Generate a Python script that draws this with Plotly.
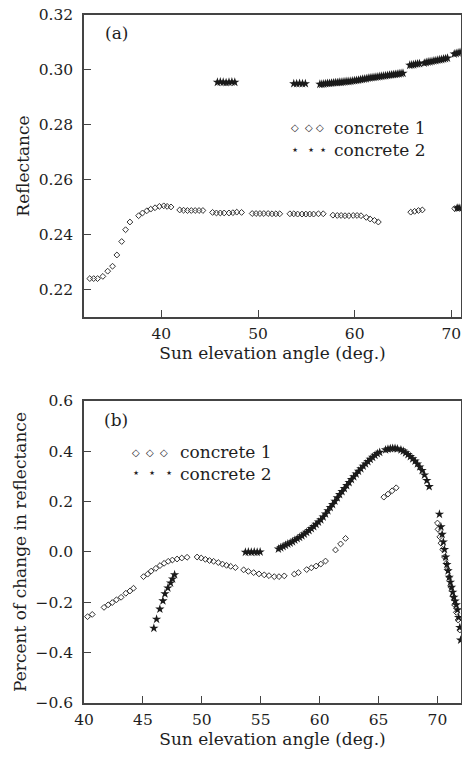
import plotly.graph_objects as go
from plotly.subplots import make_subplots

# ---------------- panel (a): reflectance ----------------
a_c1_x = [32.6, 33.0, 33.4, 33.95, 34.45, 34.95, 35.4, 35.9, 36.3, 36.75, 37.65, 38.05, 38.5, 38.9,
          39.35, 39.8, 40.25, 40.6, 41.0, 41.9, 42.3, 42.7, 43.1, 43.5, 43.9, 44.3, 45.3, 45.7, 46.1,
          46.5, 47.0, 47.4, 47.8, 48.3, 49.4, 49.8, 50.2, 50.6, 51.05, 51.45, 51.85, 52.25, 53.3, 53.7,
          54.1, 54.55, 54.95, 55.35, 55.75, 56.25, 56.75, 57.75, 58.2, 58.6, 59.0, 59.4, 59.85, 60.25,
          60.65, 61.2, 61.6, 62.05, 62.45, 65.8, 66.2, 66.6, 67.0, 70.35, 70.65, 70.95]
a_c1_y = [0.2240, 0.2240, 0.2240, 0.2248, 0.2267, 0.2285, 0.2326, 0.2375, 0.2418, 0.2446, 0.2469,
          0.2479, 0.2487, 0.2493, 0.2498, 0.2503, 0.2505, 0.2503, 0.2501, 0.2490, 0.2489, 0.2488,
          0.2488, 0.2488, 0.2488, 0.2488, 0.2481, 0.2479, 0.2479, 0.2479, 0.2479, 0.2480, 0.2482,
          0.2481, 0.2477, 0.2477, 0.2477, 0.2477, 0.2477, 0.2476, 0.2476, 0.2476, 0.2476, 0.2476,
          0.2475, 0.2475, 0.2475, 0.2475, 0.2475, 0.2476, 0.2476, 0.2471, 0.2470, 0.2470, 0.2469,
          0.2469, 0.2470, 0.2470, 0.2469, 0.2463, 0.2457, 0.2452, 0.2446, 0.2482, 0.2485, 0.2488,
          0.2490, 0.2495, 0.2497, 0.2498]

a_c2_x = [45.8, 46.1, 46.4, 46.7, 47.0, 47.3, 47.6,
          53.7, 54.0, 54.3, 54.6, 54.9,
          56.4, 56.6, 56.8, 57.0, 57.2, 57.4, 57.6, 57.8, 58.0, 58.2, 58.4, 58.6, 58.8, 59.0, 59.2,
          59.4, 59.6, 59.8, 60.0, 60.2, 60.4, 60.6, 60.8, 61.0, 61.2, 61.4, 61.6, 61.8, 62.0, 62.2,
          62.4, 62.6, 62.8, 63.0, 63.2, 63.4, 63.6, 63.8, 64.0, 64.2, 64.4, 64.6, 64.8, 65.0,
          65.7, 65.9, 66.1, 66.3, 66.5, 66.7, 67.2, 67.4, 67.6, 67.8, 68.0, 68.2, 68.4, 68.6, 68.8,
          69.0, 69.2, 69.4, 69.6,
          70.3, 70.5, 70.7, 70.9,
          70.6, 70.8]
a_c2_y = [0.2955, 0.2956, 0.2955, 0.2954, 0.2955, 0.2956, 0.2955,
          0.2950, 0.2950, 0.2951, 0.2950, 0.2950,
          0.2948, 0.2948, 0.2949, 0.2950, 0.2951, 0.2951, 0.2952, 0.2953, 0.2954, 0.2954, 0.2955,
          0.2955, 0.2956, 0.2957, 0.2958, 0.2958, 0.2959, 0.2960, 0.2961, 0.2962, 0.2963, 0.2965,
          0.2966, 0.2967, 0.2968, 0.2970, 0.2971, 0.2972, 0.2973, 0.2974, 0.2975, 0.2976, 0.2977,
          0.2978, 0.2979, 0.2980, 0.2981, 0.2982, 0.2983, 0.2984, 0.2985, 0.2986, 0.2987, 0.2988,
          0.3017, 0.3018, 0.3019, 0.3021, 0.3022, 0.3023, 0.3025, 0.3027, 0.3029, 0.3030, 0.3031,
          0.3033, 0.3034, 0.3036, 0.3037, 0.3038, 0.3040, 0.3041, 0.3043,
          0.3058, 0.3060, 0.3062, 0.3064,
          0.2497, 0.2497]

# ---------------- panel (b): percent change ----------------
b_c1_x = [40.3, 40.7, 41.7, 42.05, 42.4, 42.75, 43.15, 43.55, 43.9, 44.2, 45.05, 45.4, 45.7, 46.1,
          46.45, 46.8, 47.15, 47.5, 47.9, 48.3, 48.75, 49.6, 49.95, 50.3, 50.65, 51.0, 51.4, 51.75,
          52.1, 52.45, 52.85, 53.55, 53.95, 54.4, 54.85, 55.3, 55.7, 56.15, 56.55, 57.0, 57.85, 58.2,
          58.9, 59.3, 59.7, 60.1, 60.5, 61.35, 61.78, 62.2, 65.45, 65.8, 66.15, 66.5,
          70.0, 70.05, 70.2, 70.3, 70.45, 70.6, 70.75, 70.87, 71.0, 71.15, 71.3, 71.45, 71.6, 71.75, 71.9]
b_c1_y = [-0.257, -0.248, -0.220, -0.210, -0.201, -0.190, -0.180, -0.164, -0.155, -0.144, -0.098,
          -0.088, -0.076, -0.065, -0.054, -0.045, -0.037, -0.032, -0.028, -0.024, -0.021, -0.020,
          -0.024, -0.029, -0.034, -0.037, -0.042, -0.048, -0.053, -0.057, -0.062, -0.071, -0.077,
          -0.082, -0.087, -0.091, -0.094, -0.098, -0.098, -0.095, -0.088, -0.082, -0.070, -0.063,
          -0.056, -0.048, -0.036, 0.008, 0.032, 0.054, 0.218, 0.230, 0.243, 0.255,
          0.115, 0.090, 0.060, 0.035, 0.010, -0.020, -0.045, -0.070, -0.100, -0.140, -0.175, -0.210,
          -0.240, -0.270, -0.310]

b_c2_x = [45.93, 46.16, 46.44, 46.7, 46.87, 47.12, 47.35, 47.52, 47.69,
          53.7, 53.95, 54.2, 54.45, 54.7, 54.95,
          56.5, 56.7, 56.9, 57.1, 57.3, 57.5, 57.7, 57.9, 58.1, 58.3, 58.5, 58.7, 58.9, 59.1, 59.3,
          59.5, 59.7, 59.9, 60.1, 60.3, 60.5, 60.7, 60.9, 61.1, 61.3, 61.5, 61.7, 61.9, 62.1, 62.3,
          62.5, 62.7, 62.9, 63.1, 63.3, 63.5, 63.7, 63.9, 64.1, 64.3, 64.5, 64.7, 64.9, 65.1,
          65.6, 65.8, 66.0, 66.2, 66.4, 66.6, 66.9, 67.1, 67.3, 67.5, 67.7, 67.9, 68.1, 68.3, 68.5,
          68.7, 68.9, 69.1, 69.3,
          70.17, 70.3, 70.4, 70.5, 70.6, 70.7, 70.8, 70.9, 71.0, 71.1, 71.2, 71.3, 71.4, 71.5, 71.6,
          71.7, 71.8, 71.9, 71.97]
b_c2_y = [-0.303, -0.267, -0.227, -0.194, -0.166, -0.143, -0.123, -0.107, -0.090,
          -0.001, 0.000, -0.001, 0.000, -0.001, 0.000,
          0.012, 0.017, 0.022, 0.027, 0.032, 0.036, 0.041, 0.047, 0.053, 0.058, 0.064, 0.071, 0.078,
          0.085, 0.093, 0.101, 0.110, 0.119, 0.128, 0.139, 0.151, 0.164, 0.177, 0.189, 0.202, 0.215,
          0.228, 0.240, 0.252, 0.264, 0.276, 0.288, 0.299, 0.310, 0.321, 0.331, 0.341, 0.350, 0.359,
          0.368, 0.376, 0.384, 0.391, 0.396,
          0.406, 0.409, 0.411, 0.412, 0.412, 0.410, 0.406, 0.401, 0.394, 0.387, 0.379, 0.370, 0.361,
          0.350, 0.338, 0.324, 0.306, 0.284, 0.260,
          0.150, 0.100, 0.070, 0.040, 0.010, -0.020, -0.050, -0.075, -0.100, -0.120, -0.140, -0.160,
          -0.180, -0.195, -0.210, -0.230, -0.260, -0.300, -0.350]

a_yticks = [0.22, 0.24, 0.26, 0.28, 0.30, 0.32]
a_xticks = [40, 50, 60, 70]
b_yticks = [-0.6, -0.4, -0.2, 0.0, 0.2, 0.4, 0.6]
b_xticks = [40, 45, 50, 55, 60, 65, 70]

FONT = "DejaVu Serif"
INK = "#1e1e1e"
DIA = dict(symbol="diamond-open", size=4.5, color="#333", line=dict(width=1, color="#333"))
STAR = dict(symbol="star", size=7, color="#1a1a1a", line=dict(width=0))

fig = make_subplots(rows=2, cols=1, vertical_spacing=0.0)
fig.add_trace(go.Scatter(x=a_c1_x, y=a_c1_y, mode="markers", marker=DIA, name="concrete 1",
                         showlegend=False), row=1, col=1)
fig.add_trace(go.Scatter(x=a_c2_x, y=a_c2_y, mode="markers", marker=STAR, name="concrete 2",
                         showlegend=False), row=1, col=1)
fig.add_trace(go.Scatter(x=b_c1_x, y=b_c1_y, mode="markers", marker=DIA, name="concrete 1",
                         showlegend=False), row=2, col=1)
fig.add_trace(go.Scatter(x=b_c2_x, y=b_c2_y, mode="markers", marker=STAR, name="concrete 2",
                         showlegend=False), row=2, col=1)

axis_common = dict(showline=True, mirror=True, linecolor="#444", linewidth=1.5, ticks="inside",
                   ticklen=7, tickcolor="#444", tickwidth=1.2, showgrid=False, zeroline=False,
                   automargin=False, ticklabeloverflow="allow",
                   tickfont=dict(family=FONT, size=15.5, color=INK))
title_font = dict(family=FONT, size=17, color=INK)

fig.update_xaxes(range=[32, 71], tickvals=a_xticks, domain=[0, 1], ticklabelstandoff=2,
                 title=dict(text="Sun elevation angle (deg.)", font=title_font, standoff=4),
                 **axis_common, row=1, col=1)
fig.update_yaxes(range=[0.21, 0.32], tickvals=a_yticks, tickformat=".2f", domain=[0.561, 1],
                 ticklabelstandoff=6,
                 title=dict(text="Reflectance", font=title_font, standoff=5),
                 **axis_common, row=1, col=1)
fig.update_xaxes(range=[40, 72], tickvals=b_xticks, domain=[0, 1], ticklabelstandoff=2,
                 title=dict(text="Sun elevation angle (deg.)", font=title_font, standoff=4),
                 **axis_common, row=2, col=1)
fig.update_yaxes(range=[-0.6, 0.6], tickvals=b_yticks, tickformat=".1f", domain=[0, 0.439],
                 ticklabelstandoff=6,
                 title=dict(text="Percent of change in reflectance", font=title_font, standoff=5),
                 **axis_common, row=2, col=1)

ann = []
def label(xr, yr, x, y, text, size, xanchor="left"):
    ann.append(dict(xref=xr, yref=yr, x=x, y=y, text=text, showarrow=False, xanchor=xanchor,
                    yanchor="middle", font=dict(family=FONT, size=size, color=INK)))

label("x domain", "y domain", 0.05, 0.94, "(a)", 17)
label("x2 domain", "y2 domain", 0.047, 0.937, "(b)", 17)
# legend (a)
label("x domain", "y domain", 0.543, 0.626, "◇ &nbsp;◇ ◇", 10)
label("x domain", "y domain", 0.543, 0.556, "⋆ &nbsp;⋆ ⋆", 13)
label("x domain", "y domain", 0.658, 0.591, "concrete 1<br>concrete 2", 17)
# legend (b)
label("x2 domain", "y2 domain", 0.122, 0.828, "◇ &nbsp;◇ &nbsp;◇", 10)
label("x2 domain", "y2 domain", 0.122, 0.762, "⋆ &nbsp;⋆ &nbsp;⋆", 13)
label("x2 domain", "y2 domain", 0.25, 0.795, "concrete 1<br>concrete 2", 17)

fig.update_layout(width=462, height=760, margin=dict(l=84, r=1, t=15, b=57),
                  plot_bgcolor="white", paper_bgcolor="white", annotations=ann,
                  font=dict(family=FONT, color=INK))

fig.write_html("out.html", config={"displayModeBar": False},
               post_script="document.body.style.margin='0';document.body.style.overflow='hidden';")
